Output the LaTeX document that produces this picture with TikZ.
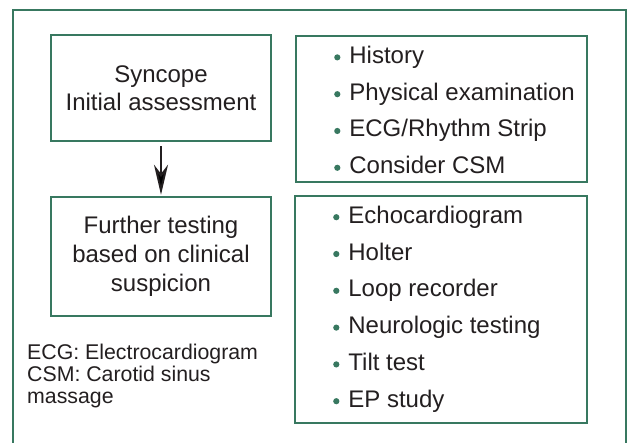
\documentclass[tikz,border=0pt]{standalone}
\usepackage{fontspec}
\setmainfont{Liberation Sans}
\usetikzlibrary{arrows.meta}
\definecolor{boxgreen}{RGB}{56,120,96}
\definecolor{txt}{RGB}{35,31,32}
\newcommand\bul{\raisebox{6pt}{\tikz[baseline=0pt]\fill[boxgreen] (0,0) circle (3.1pt);}\hspace{9pt}}
\tikzset{
  box/.style={draw=boxgreen, line width=2.5pt, rectangle, inner sep=0pt},
  boxtext/.style={text=txt, align=center, font=\fontsize{24}{28.5}\selectfont},
  listtext/.style={text=txt, align=left, inner sep=0pt, font=\fontsize{24}{36.8}\selectfont},
  legend/.style={text=txt, align=left, inner sep=0pt, font=\fontsize{21.3}{22}\selectfont},
  flow/.style={draw=txt, line width=2pt, -{Stealth[length=30pt,width=14pt,inset=9pt]}}
}
\begin{document}
\begin{tikzpicture}[x=1pt,y=-1pt]
\useasboundingbox (0,0) rectangle (628,443);
\fill[white] (0,0) rectangle (628,443);
\draw[boxgreen, line width=2.5pt] (13,10) rectangle (626,470);
\node[box, boxtext, minimum width=220pt, minimum height=106pt] (b1) at (161,88) {Syncope\\Initial assessment};
\node[box, minimum width=291pt, minimum height=146pt] (b2) at (441.5,109) {};
\node[box, boxtext, minimum width=220pt, minimum height=119pt, font=\fontsize{24}{29}\selectfont] (b3) at (161,256.5) {Further testing\\based on clinical\\suspicion};
\node[box, minimum width=292pt, minimum height=227pt] (b4) at (441,309.5) {};
\node[listtext, anchor=west] (l1) at (334,110) {\bul History\\\bul Physical examination\\\bul ECG/Rhythm Strip\\\bul Consider CSM};
\node[listtext, anchor=west] (l2) at (333,309) {\bul Echocardiogram\\\bul Holter\\\bul Loop recorder\\\bul Neurologic testing\\\bul Tilt test\\\bul EP study};
\node[legend, anchor=west] (lg) at (27,376) {ECG: Electrocardiogram\\CSM: Carotid sinus\\massage};
\draw[flow, shorten <=4pt, shorten >=1pt] (b1.south) -- (b3.north);
\end{tikzpicture}
\end{document}
